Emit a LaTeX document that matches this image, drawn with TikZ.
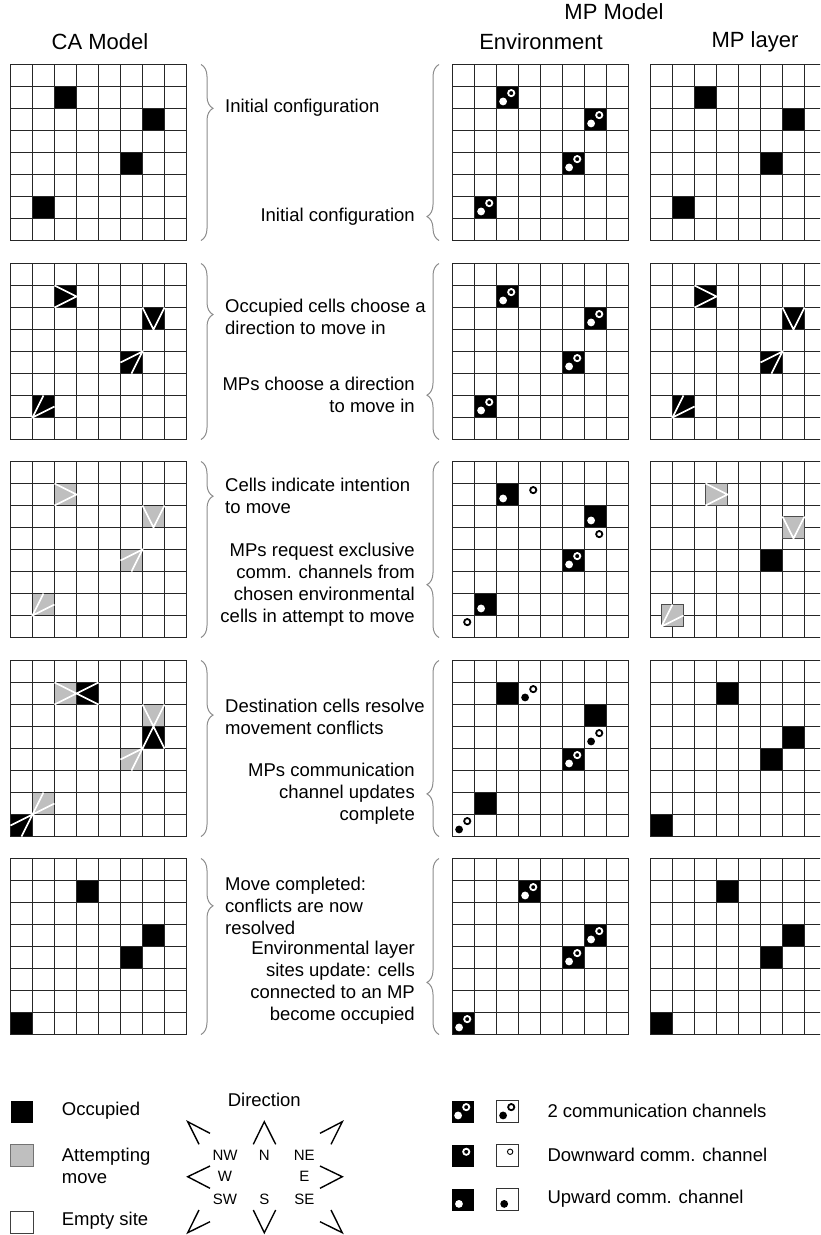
\documentclass[tikz,border=0pt]{standalone}
\usepackage{fontspec}
\setmainfont{Liberation Sans}
\usetikzlibrary{decorations.pathreplacing}

% one 8x8 lattice, in panel units
\newcommand{\panelgrid}{%
  \foreach \i in {0,...,8} {
    \draw[gridline] (\i,0) -- (\i,8);
    \draw[gridline] (0,\i) -- (8,\i);
  }}

\begin{document}
\begin{tikzpicture}[
    x=1pt, y=-1pt,
    every node/.style={font=\fontsize{18.5pt}{22pt}\selectfont, inner sep=0pt},
    heading/.style={font=\fontsize{22pt}{26pt}\selectfont},
    compass_lbl/.style={font=\fontsize{15pt}{18pt}\selectfont},
    panel/.style 2 args={shift={(#1,#2)}, x=22pt, y=-22pt},
    gridline/.style={draw=black!85, line width=1.25pt, line cap=rect},
    occupied/.style={fill=black},
    attempt/.style={fill=black!25},
    moving_box/.style={fill=black!25, draw=black!70, line width=1pt},
    dir_line/.style={draw=white, line width=1.6pt},
    compass_line/.style={draw=black, line width=1.4pt},
    ring_w/.style={draw=white, fill=black, line width=1.8pt},
    ring_b/.style={draw=black, fill=white, line width=1.8pt},
    stage_brace/.style={decorate, decoration={brace, amplitude=12pt, aspect=#1}, draw=black!45, line width=1pt}
]
\clip (0,0) rectangle (820,1235);

% headings
\node[heading] (h_ca)  at (100,42) {CA Model};
\node[heading] (h_mp)  at (614,12) {MP Model};
\node[heading] (h_env) at (541,42) {Environment};
\node[heading] (h_mpl) at (755,42) {MP layer};

% plain lattices
\foreach \px/\py/\cells in {10.5/64.5/{2/1,6/2,5/4,1/6}, 650.5/64.5/{2/1,6/2,5/4,1/6},
    650.5/660.5/{3/1,6/3,5/4,0/7}, 10.5/858.5/{3/1,6/3,5/4,0/7}, 650.5/858.5/{3/1,6/3,5/4,0/7}} {
  \begin{scope}[panel={\px}{\py}]
    \foreach \c/\r in \cells \fill[occupied] (\c,\r) rectangle ++(1,1);
    \panelgrid
  \end{scope}
}

% environment lattices with MPs sitting on their cells
\foreach \py/\cells in {64.5/{2/1,6/2,5/4,1/6}, 263.5/{2/1,6/2,5/4,1/6}, 858.5/{3/1,6/3,5/4,0/7}} {
  \begin{scope}[panel={452.5}{\py}]
    \foreach \c/\r in \cells \fill[occupied] (\c,\r) rectangle ++(1,1);
    \panelgrid
    \foreach \c/\r in \cells {
      \fill[white] (\c+0.3,\r+0.68) circle (3.9pt);
      \draw[ring_w] (\c+0.67,\r+0.3) circle (3.1pt);
    }
  \end{scope}
}

% chosen directions
\foreach \px/\py/\st in {10.5/263.5/occupied, 650.5/263.5/occupied, 10.5/461.5/attempt} {
  \begin{scope}[panel={\px}{\py}]
    \foreach \c/\r in {2/1,6/2,5/4,1/6} \fill[\st] (\c,\r) rectangle ++(1,1);
    \panelgrid
    \draw[dir_line] (2,1) -- (3,1.5) -- (2,2);
    \draw[dir_line] (6,2) -- (6.5,3) -- (7,2);
    \draw[dir_line] (5,4.5) -- (6,4) -- (5.5,5);
    \draw[dir_line] (1.5,6) -- (1,7) -- (2,6.5);
  \end{scope}
}

% channel requests
\begin{scope}[panel={452.5}{461.5}]
  \foreach \c/\r in {2/1,6/2,5/4,1/6} \fill[occupied] (\c,\r) rectangle ++(1,1);
  \panelgrid
  \foreach \c/\r in {2/1,6/2,5/4,1/6} \fill[white] (\c+0.3,\r+0.68) circle (3.9pt);
  \draw[ring_w] (5.67,4.3) circle (3.1pt);
  \foreach \c/\r in {3/1,6/3,0/7} \draw[ring_b] (\c+0.67,\r+0.3) circle (3.1pt);
\end{scope}
\begin{scope}[panel={650.5}{461.5}]
  \fill[occupied] (5,4) rectangle ++(1,1);
  \panelgrid
  \foreach \c/\r in {2.5/1,6/2.5,0.5/6.5} \draw[moving_box] (\c,\r) rectangle ++(1,1);
  \draw[dir_line] (2.5,1) -- (3.5,1.5) -- (2.5,2);
  \draw[dir_line] (6,2.5) -- (6.5,3.5) -- (7,2.5);
  \draw[dir_line] (1,6.5) -- (0.5,7.5) -- (1.5,7);
\end{scope}

% conflicts and channel updates
\begin{scope}[panel={10.5}{660.5}]
  \foreach \c/\r in {2/1,6/2,5/4,1/6} \fill[attempt] (\c,\r) rectangle ++(1,1);
  \foreach \c/\r in {3/1,6/3,0/7} \fill[occupied] (\c,\r) rectangle ++(1,1);
  \panelgrid
  \draw[dir_line] (2,1) -- (4,2) (2,2) -- (4,1);
  \draw[dir_line] (6,2) -- (7,4) (7,2) -- (6,4);
  \draw[dir_line] (5,4.5) -- (6,4) -- (5.5,5);
  \draw[dir_line] (1.5,6) -- (0.5,8) (2,6.5) -- (0,7.5);
\end{scope}
\begin{scope}[panel={452.5}{660.5}]
  \foreach \c/\r in {2/1,6/2,5/4,1/6} \fill[occupied] (\c,\r) rectangle ++(1,1);
  \panelgrid
  \fill[white] (5.3,4.68) circle (3.9pt);
  \draw[ring_w] (5.67,4.3) circle (3.1pt);
  \foreach \c/\r in {3/1,6/3,0/7} {
    \fill[black] (\c+0.3,\r+0.68) circle (3.9pt);
    \draw[ring_b] (\c+0.67,\r+0.3) circle (3.1pt);
  }
\end{scope}

% braces
\foreach \top/\ca/\mp in {64.5/0.249/0.136, 263.5/0.29/0.252, 461.5/0.197/0.30,
    660.5/0.31/0.242, 858.5/0.269/0.296} {
  \draw[stage_brace=\ca] (201,\top) -- (201,\top+176);
  \draw[stage_brace=\mp] (439,\top+176) -- (439,\top);
}

% step descriptions
\node[anchor=west, align=left] (ca_txt1) at (225,108) {Initial configuration};
\node[anchor=west, align=left] (ca_txt2) at (225,317) {Occupied cells choose a\\direction to move in};
\node[anchor=west, align=left] (ca_txt3) at (225,496) {Cells indicate intention\\to move};
\node[anchor=west, align=left] (ca_txt4) at (225,717) {Destination cells resolve\\movement conflicts};
\node[anchor=west, align=left] (ca_txt5) at (225,906) {Move completed:\\conflicts are now\\resolved};
\node[anchor=east, align=right] (mp_txt1) at (415,217) {Initial configuration};
\node[anchor=east, align=right] (mp_txt2) at (415,395) {MPs choose a direction\\to move in};
\node[anchor=east, align=right] (mp_txt3) at (415,584.5) {MPs request exclusive\\comm. channels from\\chosen environmental\\cells in attempt to move};
\node[anchor=east, align=right] (mp_txt4) at (415,794) {MPs communication\\channel updates\\complete};
\node[anchor=east, align=right] (mp_txt5) at (415,983) {Environmental layer\\sites update: cells\\connected to an MP\\become occupied};

% legend: cell states
\fill[occupied] (10.5,1100.5) rectangle (33,1122.5);
\node[anchor=west] (lg_occ) at (61.7,1111) {Occupied};
\draw[fill=black!25, draw=black!55, line width=1pt] (10.5,1144.5) rectangle (33,1166.5);
\node[anchor=west, align=left] (lg_att) at (61.7,1166.3) {Attempting\\move};
\draw[draw=black!75, line width=1pt] (10.5,1211.5) rectangle (33,1233.5);
\node[anchor=west] (lg_emp) at (61.7,1221) {Empty site};

% legend: directions
\node (lg_dir) at (264.3,1100) {Direction};
\foreach \lab/\lx/\ly in {NW/225/1155, N/264.3/1155, NE/304.3/1155, W/225/1176.7,
    E/304.3/1176.7, SW/225/1199.3, S/264.3/1199.3, SE/304.3/1199.3}
  \node[compass_lbl] (cmp_\lab) at (\lx,\ly) {\lab};
\draw[compass_line] (253.3,1144.3) -- (264.3,1121.7) -- (275.7,1144.3);
\draw[compass_line] (253.3,1210) -- (264.3,1232.7) -- (275.7,1210);
\draw[compass_line] (210,1166) -- (187.7,1176.7) -- (210,1188.3);
\draw[compass_line] (320,1166) -- (342.3,1176.7) -- (320,1188.3);
\draw[compass_line] (210,1133.3) -- (187.7,1121.7) -- (199,1144.3);
\draw[compass_line] (320,1133.3) -- (342.3,1121.7) -- (331,1144.3);
\draw[compass_line] (210,1221.7) -- (187.7,1232.7) -- (199,1210);
\draw[compass_line] (320,1221.7) -- (342.3,1232.7) -- (331,1210);

% legend: communication channels
\begin{scope}[panel={451.5}{1100.5}]
  \fill[occupied] (0,0) rectangle (1,1);
  \fill[white] (0.3,0.68) circle (3.9pt);
  \draw[ring_w] (0.67,0.3) circle (3.1pt);
\end{scope}
\begin{scope}[panel={496.5}{1100.5}]
  \draw[draw=black!80, line width=1pt] (0,0) rectangle (1,1);
  \fill[black] (0.3,0.68) circle (3.9pt);
  \draw[ring_b] (0.67,0.3) circle (3.1pt);
\end{scope}
\begin{scope}[panel={451.5}{1144.5}]
  \fill[occupied] (0,0) rectangle (1,1);
  \draw[ring_w] (0.67,0.33) circle (3.1pt);
\end{scope}
\begin{scope}[panel={496.5}{1144.5}]
  \draw[draw=black!80, line width=1pt] (0,0) rectangle (1,1);
  \draw[draw=black, fill=white, line width=0.9pt] (0.62,0.33) circle (2.7pt);
\end{scope}
\begin{scope}[panel={451.5}{1188.5}]
  \fill[occupied] (0,0) rectangle (1,1);
  \fill[white] (0.34,0.7) circle (3.9pt);
\end{scope}
\begin{scope}[panel={496.5}{1188.5}]
  \draw[draw=black!80, line width=1pt] (0,0) rectangle (1,1);
  \fill[black] (0.35,0.7) circle (3.9pt);
\end{scope}
\node[anchor=west] (lg_two) at (547.3,1111) {2 communication channels};
\node[anchor=west] (lg_down) at (547.3,1155) {Downward comm. channel};
\node[anchor=west] (lg_up) at (547.3,1199) {Upward comm. channel};

\end{tikzpicture}
\end{document}
